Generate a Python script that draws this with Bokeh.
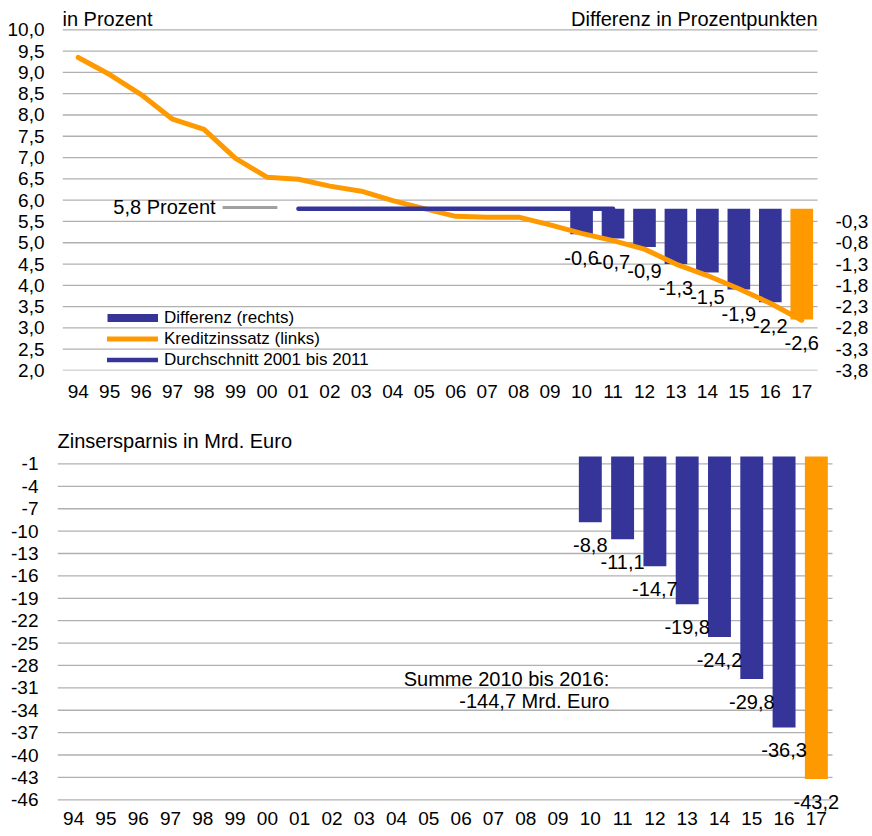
from bokeh.plotting import figure
from bokeh.models import (Range1d, LinearAxis, FixedTicker, CustomJSTickFormatter,
                          ColumnDataSource, LabelSet, Label, Legend, LegendItem)
from bokeh.core.properties import value
from bokeh.embed import file_html
from bokeh.resources import INLINE

# ---------------- data ----------------
years = ["94", "95", "96", "97", "98", "99", "00", "01", "02", "03", "04", "05",
         "06", "07", "08", "09", "10", "11", "12", "13", "14", "15", "16", "17"]
rate = [9.35, 8.95, 8.48, 7.90, 7.66, 6.98, 6.54, 6.49, 6.33, 6.21, 5.99, 5.80,
        5.62, 5.60, 5.60, 5.42, 5.22, 5.05, 4.85, 4.50, 4.23, 3.92, 3.58, 3.18]
diff_years = ["10", "11", "12", "13", "14", "15", "16", "17"]
diff = [-0.6, -0.7, -0.9, -1.3, -1.5, -1.9, -2.2, -2.6]
savings = [-8.8, -11.1, -14.7, -19.8, -24.2, -29.8, -36.3, -43.2]
avg_level = 5.8
avg_from, avg_to = "01", "11"
left_ticks = [2.0, 2.5, 3.0, 3.5, 4.0, 4.5, 5.0, 5.5, 6.0, 6.5, 7.0, 7.5, 8.0, 8.5, 9.0, 9.5, 10.0]
right_ticks = [-0.3, -0.8, -1.3, -1.8, -2.3, -2.8, -3.3, -3.8]
bottom_ticks = [-1, -4, -7, -10, -13, -16, -19, -22, -25, -28, -31, -34, -37, -40, -43, -46]

# ---------------- style ----------------
BLUE = "#343499"
ORANGE = "#FF9900"
GRID = "#b0b0b0"
FONT = "Liberation Sans"
W = 872

# layout (pixels)
TOP_H = 410
TOP_LEFT, TOP_GRID_RIGHT, TOP_FRAME_RIGHT = 62, 817, 825
TOP_FRAME_TOP, TOP_GRID_TOP, TOP_FRAME_BOTTOM = 0, 29.3, 370
BOT_H = 426
BOT_LEFT, BOT_GRID_RIGHT, BOT_FRAME_RIGHT = 57, 832, 852
BOT_FRAME_TOP, BOT_ZERO, BOT_GRID_BOTTOM, BOT_FRAME_BOTTOM = 15, 46, 389.3, 404


def fmt(v):
    return f"{v:.1f}".replace(".", ",")


n = len(years)
xs = list(range(n))
diff_x = [years.index(y) for y in diff_years]
bar_colors = [BLUE] * (len(diff_years) - 1) + [ORANGE]
x_lo, x_hi = -0.5, n - 0.5


def style_axes(p):
    for ax in p.axis:
        ax.axis_line_color = None
        ax.major_tick_line_color = None
        ax.minor_tick_line_color = None
        ax.major_tick_out = 0
        ax.major_tick_in = 0
        ax.major_label_text_font = FONT
        ax.major_label_text_font_size = "19px"
        ax.major_label_text_color = "black"
    p.xgrid.visible = False
    p.ygrid.visible = False


# ---------------- top chart ----------------
ppu = (TOP_FRAME_BOTTOM - TOP_GRID_TOP) / (left_ticks[-1] - left_ticks[0])
ytop_max = left_ticks[-1] + (TOP_GRID_TOP - TOP_FRAME_TOP) / ppu
xppu = (TOP_GRID_RIGHT - TOP_LEFT) / n
top = figure(width=W, height=TOP_H,
             x_range=Range1d(x_lo, x_hi + (TOP_FRAME_RIGHT - TOP_GRID_RIGHT) / xppu),
             y_range=Range1d(left_ticks[0], ytop_max), output_backend="svg", toolbar_location=None,
             title=None, min_border_left=TOP_LEFT, min_border_right=W - TOP_FRAME_RIGHT,
             min_border_top=TOP_FRAME_TOP, min_border_bottom=TOP_H - TOP_FRAME_BOTTOM,
             outline_line_color=None)
top.extra_y_ranges = {"diff": Range1d(left_ticks[0] - avg_level, ytop_max - avg_level)}
right_axis = LinearAxis(y_range_name="diff", ticker=FixedTicker(ticks=right_ticks),
                        formatter=CustomJSTickFormatter(code="return tick.toFixed(1).replace('.', ',');"))
top.add_layout(right_axis, "right")

top.left[0].ticker = FixedTicker(ticks=left_ticks)
top.left[0].formatter = CustomJSTickFormatter(code="return tick.toFixed(1).replace('.', ',');")
top.below[0].ticker = FixedTicker(ticks=xs)
top.below[0].major_label_overrides = {i: y for i, y in enumerate(years)}
style_axes(top)
top.left[0].major_label_standoff = 18
right_axis.major_label_standoff = 10
top.below[0].major_label_standoff = 14

# horizontal grid lines over the category span
top.segment(x0=x_lo, x1=x_hi, y0=left_ticks, y1=left_ticks, line_color=GRID,
            line_width=1.3, level="underlay")

src_top = ColumnDataSource(dict(x=diff_x, v=diff, c=bar_colors,
                                t=[fmt(v) for v in diff]))
top.vbar(x="x", top=0, bottom="v", width=0.72, fill_color="c", line_color=None,
         source=src_top, y_range_name="diff")
rate_line = top.line(x=xs, y=rate, line_width=5, line_color=ORANGE,
                     line_join="round", line_cap="round")
avg_line = top.line(x=[years.index(avg_from), years.index(avg_to)], y=[avg_level, avg_level],
                    line_width=4.5, line_color=BLUE, line_cap="round")
# legend-only helper (draws nothing in the plot)
dummy_bar = top.line(x=[float("nan")] * 2, y=[float("nan")] * 2, line_width=8,
                     line_color=BLUE, line_cap="butt")

top.add_layout(LabelSet(x="x", y="v", text="t", source=src_top, y_range_name="diff",
                        y_offset=-24, text_align="center", text_baseline="middle",
                        text_font=value(FONT), text_font_size=value("20px"), text_color="black"))

# note "5,8 Prozent"
note_x0 = years.index("99") - 0.41
note_x1 = years.index("00") + 0.33
top.line(x=[note_x0, note_x1], y=[avg_level + 0.03] * 2, line_width=3, line_color="#a0a0a0")
top.add_layout(Label(x=note_x0, y=avg_level + 0.03, x_offset=-7, text="5,8 Prozent",
                     text_align="right", text_baseline="middle",
                     text_font=FONT, text_font_size="20px", text_color="black"))

top.add_layout(Label(x=x_lo, y=left_ticks[-1], y_offset=11, text="in Prozent",
                     text_align="left", text_baseline="middle",
                     text_font=FONT, text_font_size="20px", text_color="black"))
top.add_layout(Label(x=x_hi, y=left_ticks[-1], y_offset=11,
                     text="Differenz in Prozentpunkten",
                     text_align="right", text_baseline="middle",
                     text_font=FONT, text_font_size="20px", text_color="black"))

legend = Legend(items=[LegendItem(label="Differenz (rechts)", renderers=[dummy_bar]),
                       LegendItem(label="Kreditzinssatz (links)", renderers=[rate_line]),
                       LegendItem(label="Durchschnitt 2001 bis 2011", renderers=[avg_line])],
                location=(45, 0), padding=0, margin=0, spacing=0,
                label_height=21, glyph_height=21, glyph_width=51, label_standoff=6,
                background_fill_alpha=0, border_line_alpha=0,
                label_text_font=FONT, label_text_font_size="17px", label_text_color="black")
top.add_layout(legend)

# ---------------- bottom chart ----------------
bppu = (BOT_GRID_BOTTOM - BOT_ZERO) / (0 - bottom_ticks[-1])
bot_max = (BOT_ZERO - BOT_FRAME_TOP) / bppu
bot_min = bottom_ticks[-1] - (BOT_FRAME_BOTTOM - BOT_GRID_BOTTOM) / bppu
bxppu = (BOT_GRID_RIGHT - BOT_LEFT) / n
bot = figure(width=W, height=BOT_H,
             x_range=Range1d(x_lo, x_hi + (BOT_FRAME_RIGHT - BOT_GRID_RIGHT) / bxppu),
             y_range=Range1d(bot_min, bot_max), output_backend="svg", toolbar_location=None,
             title=None, min_border_left=BOT_LEFT, min_border_right=W - BOT_FRAME_RIGHT,
             min_border_top=BOT_FRAME_TOP, min_border_bottom=BOT_H - BOT_FRAME_BOTTOM,
             outline_line_color=None)
bot.left[0].ticker = FixedTicker(ticks=bottom_ticks)
bot.left[0].formatter = CustomJSTickFormatter(code="return tick.toFixed(0);")
bot.below[0].ticker = FixedTicker(ticks=xs)
bot.below[0].major_label_overrides = {i: y for i, y in enumerate(years)}
style_axes(bot)
bot.left[0].major_label_standoff = 19
bot.below[0].major_label_standoff = -3

bot.segment(x0=x_lo, x1=x_hi, y0=bottom_ticks, y1=bottom_ticks, line_color=GRID,
            line_width=1.3, level="underlay")

src_bot = ColumnDataSource(dict(x=diff_x, v=savings, c=bar_colors,
                                t=[fmt(v) for v in savings]))
bot.vbar(x="x", top=0, bottom="v", width=0.71, fill_color="c", line_color=None, source=src_bot)
bot.add_layout(LabelSet(x="x", y="v", text="t", source=src_bot,
                        y_offset=-23, text_align="center", text_baseline="middle",
                        text_font=value(FONT), text_font_size=value("20px"), text_color="black"))

sum_x = years.index(diff_years[0]) + 0.59
bot.add_layout(Label(x=sum_x, y=-29.8, text="Summe 2010 bis 2016:",
                     text_align="right", text_baseline="middle",
                     text_font=FONT, text_font_size="20px", text_color="black"))
bot.add_layout(Label(x=sum_x, y=-32.7, text=f"{fmt(sum(savings[:-1]))} Mrd. Euro",
                     text_align="right", text_baseline="middle",
                     text_font=FONT, text_font_size="20px", text_color="black"))
bot.add_layout(Label(x=x_lo, y=0, y_offset=16, text="Zinsersparnis in Mrd. Euro",
                     text_align="left", text_baseline="middle",
                     text_font=FONT, text_font_size="20px", text_color="black"))

# two independent roots so that the frames are not aligned with each other
open("out.html", "w").write(file_html([top, bot], INLINE))
